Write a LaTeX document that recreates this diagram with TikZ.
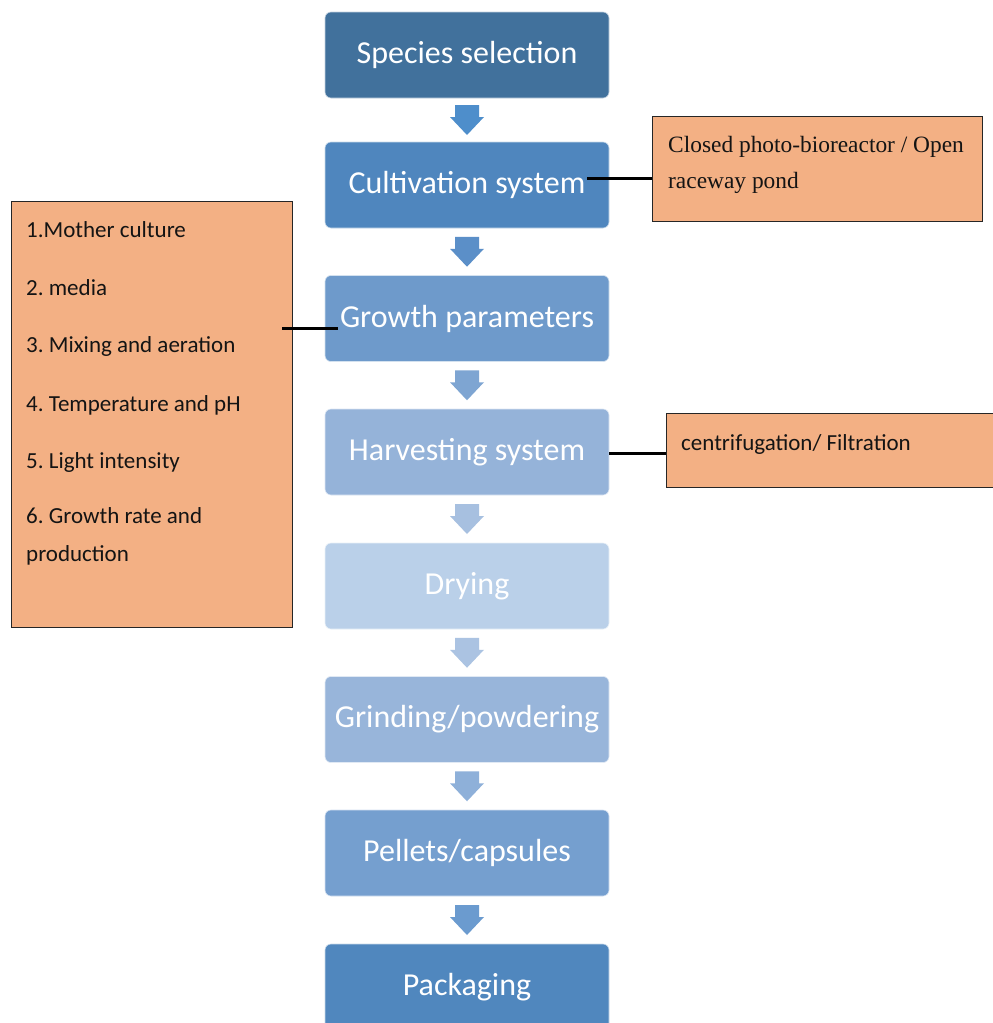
\documentclass[tikz,border=0pt]{standalone}
\usepackage{fontspec}
\setmainfont{Carlito}
\newfontfamily\timesf{Liberation Serif}
\usetikzlibrary{calc}
\frenchspacing
\definecolor{cSpec}{HTML}{41719C}
\definecolor{cCult}{HTML}{4F86BE}
\definecolor{cGrow}{HTML}{6E9ACB}
\definecolor{cHarv}{HTML}{95B3D9}
\definecolor{cDry}{HTML}{BAD0E9}
\definecolor{cGrind}{HTML}{98B5DA}
\definecolor{cPell}{HTML}{759FCF}
\definecolor{cPack}{HTML}{5087BE}
\definecolor{cA1}{HTML}{4E8ECB}
\definecolor{cA2}{HTML}{5B8FC8}
\definecolor{cA3}{HTML}{7EA5D2}
\definecolor{cA4}{HTML}{A7C0E0}
\definecolor{cA5}{HTML}{ABC3E2}
\definecolor{cA6}{HTML}{8EB0D9}
\definecolor{cA7}{HTML}{6B9BCF}
\definecolor{cOr}{HTML}{F3B084}
\newcommand\blockdown[3]{%
  \path ($(#1.south)!0.5!(#2.north)$) coordinate (m);
  \fill[#3] ($(m)+(-12,-15)$) -- ($(m)+(12,-15)$) -- ($(m)+(12,-3)$) -- ($(m)+(17,-3)$)
    -- ($(m)+(0,15)$) -- ($(m)+(-17,-3)$) -- ($(m)+(-12,-3)$) -- cycle;}
\begin{document}
\begin{tikzpicture}[x=1pt,y=-1pt,
  stepbox/.style={rounded corners=6pt, minimum width=284pt, minimum height=86pt,
    text=white, font=\fontsize{32}{36}\selectfont, draw=white!70!#1, line width=0.6pt, fill=#1, inner sep=0pt},
  notebox/.style={fill=cOr, draw=black!85, line width=1.4pt},
  notetxt/.style={anchor=base west, inner sep=0pt, font=\fontsize{23}{27}\selectfont, text=black!92},
  link/.style={line width=3pt, black}]
\clip (0,0) rectangle (993,1023);
\fill[white] (0,0) rectangle (993,1023);
% main steps
\node[stepbox=cSpec]  (s1) at (467,55)    {Species selection};
\node[stepbox=cCult]  (s2) at (467,185)   {Cultivation system};
\node[stepbox=cGrow]  (s3) at (467,318.5) {Growth parameters};
\node[stepbox=cHarv]  (s4) at (467,452)   {Harvesting system};
\node[stepbox=cDry]   (s5) at (467,586)   {Drying};
\node[stepbox=cGrind] (s6) at (467,719.5) {Grinding/powdering};
\node[stepbox=cPell]  (s7) at (467,853)   {Pellets/capsules};
\node[stepbox=cPack]  (s8) at (467,987)   {Packaging};
% arrows
\blockdown{s1}{s2}{cA1}
\blockdown{s2}{s3}{cA2}
\blockdown{s3}{s4}{cA3}
\blockdown{s4}{s5}{cA4}
\blockdown{s5}{s6}{cA5}
\blockdown{s6}{s7}{cA6}
\blockdown{s7}{s8}{cA7}
% left note
\node[notebox, minimum width=281pt, minimum height=426pt, anchor=north west, inner sep=0pt] (L) at (11,201) {};
\node[notetxt] (l1) at (26,237) {1.Mother culture};
\node[notetxt] (l2) at (26,295) {2. media};
\node[notetxt] (l3) at (26,352) {3. Mixing and aeration};
\node[notetxt] (l4) at (26,411) {4. Temperature and pH};
\node[notetxt] (l5) at (26,468) {5. Light intensity};
\node[notetxt] (l6) at (26,523) {6. Growth rate and};
\node[notetxt] (l7) at (26,561) {production};
% right note 1
\node[notebox, minimum width=330pt, minimum height=105pt, anchor=north west, inner sep=0pt] (R1) at (652,116) {};
\node[notetxt, font=\timesf\fontsize{23.4}{27}\selectfont] (r1a) at (668,152) {Closed photo-bioreactor / Open};
\node[notetxt, font=\timesf\fontsize{23.4}{27}\selectfont] (r1b) at (668,188) {raceway pond};
% right note 2
\node[notebox, minimum width=340pt, minimum height=74pt, anchor=north west, inner sep=0pt] (R2) at (666,413) {};
\node[notetxt] (r2a) at (681,450) {centrifugation/ Filtration};
% links
\coordinate (c2) at (587,178);
\coordinate (c3a) at (282,328);
\coordinate (c3b) at (338,328);
\draw[link] (c2) -- (R1.west |- c2);
\draw[link] (c3a) -- (c3b);
\draw[link] (s4.east |- 0,453) -- (R2.west |- 0,453);
\end{tikzpicture}
\end{document}
